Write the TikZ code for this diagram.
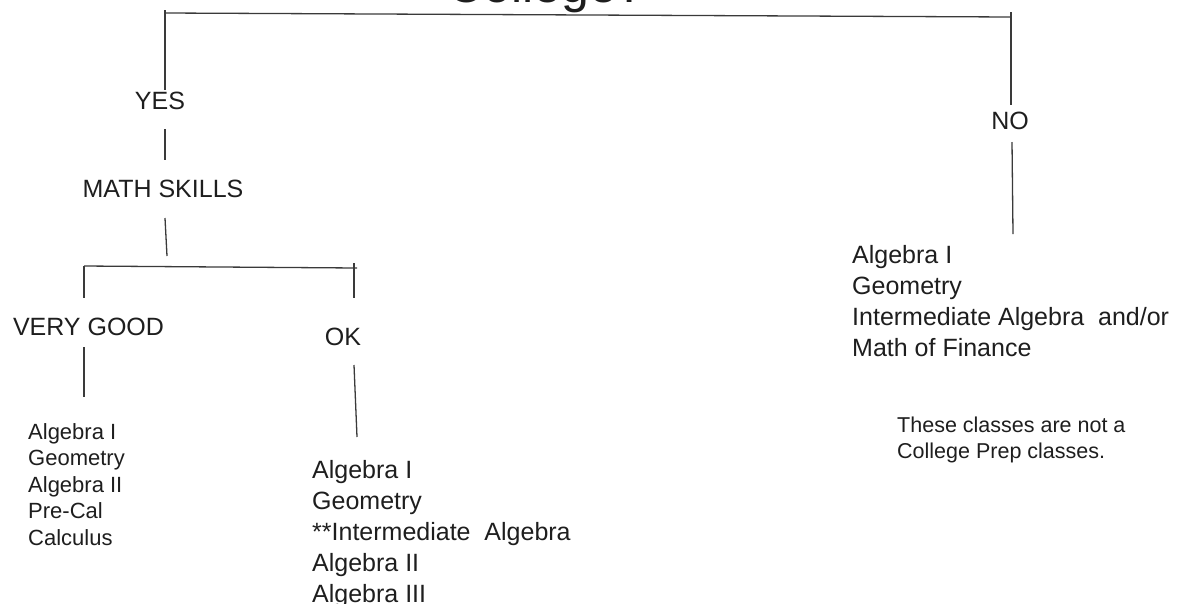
\documentclass[tikz,border=0pt]{standalone}
\usepackage{fontspec}
\setmainfont{Liberation Sans}
\definecolor{txt}{HTML}{1E1E1E}
\definecolor{linegray}{HTML}{3A3A3A}
\begin{document}
\begin{tikzpicture}[x=1pt,y=-1pt,
  conn/.style={draw=linegray, line width=1.3pt},
  lbl/.style={inner sep=0pt, text=txt, anchor=base, font=\fontsize{25}{31}\selectfont},
  lst/.style={inner sep=0pt, text=txt, align=left, anchor=north west, font=\fontsize{25}{31}\selectfont},
  smalllst/.style={lst, font=\fontsize{22}{26.5}\selectfont},
  notelst/.style={lst, font=\fontsize{21.5}{26}\selectfont}]
\useasboundingbox (0,0) rectangle (1182,603);

% text nodes
\node[lbl, font=\fontsize{50}{60}\selectfont] (title) at (546,2) {College?};
\node[lbl] (yes) at (160,109) {YES};
\node[lbl] (math) at (163,197) {MATH SKILLS};
\node[lbl] (vg) at (88.5,335) {VERY GOOD};
\node[lbl] (ok) at (343,345) {OK};
\node[lbl] (no) at (1010,129) {NO};

\node[smalllst] (vglist) at (28,423) {Algebra I\\Geometry\\Algebra II\\Pre-Cal\\Calculus};
\node[lst] (oklist) at (312,460) {Algebra I\\Geometry\\**Intermediate\ \ Algebra\\Algebra II\\Algebra III};
\node[lst] (nolist) at (852,245) {Algebra I\\Geometry\\Intermediate Algebra\ \ and/or\\Math of Finance};
\node[notelst] (note) at (897,417) {These classes are not a\\College Prep classes.};

% junction coordinates
\coordinate (ltick) at (165,10);
\coordinate (lcorner) at (165,13);
\coordinate (lend) at (165,90);
\coordinate (rcorner) at (1011,17);
\coordinate (rtick) at (1011,12);
\coordinate (rend) at (1011,105);

\coordinate (y1) at (165,129);
\coordinate (y2) at (165,160);
\coordinate (m1) at (165,218);
\coordinate (m2) at (167,256);

\coordinate (sbl) at (84,266);
\coordinate (sbr) at (357,268);
\coordinate (sbrt) at (354,263);
\coordinate (vgtop) at (84,298);
\coordinate (oktop) at (354,298);

\coordinate (vg1) at (84,347);
\coordinate (vg2) at (84,397);
\coordinate (ok1) at (354,365);
\coordinate (ok2) at (357,437);
\coordinate (no1) at (1012,142);
\coordinate (no2) at (1013,234);

% connectors
\draw[conn] (ltick) -- (lend);
\draw[conn] (lcorner) -- (rcorner);
\draw[conn] (rtick) -- (rend);
\draw[conn] (y1) -- (y2);
\draw[conn] (m1) -- (m2);
\draw[conn] (sbl) -- (sbr);
\draw[conn] (sbl) -- (vgtop);
\draw[conn] (sbrt) -- (oktop);
\draw[conn] (vg1) -- (vg2);
\draw[conn] (ok1) -- (ok2);
\draw[conn] (no1) -- (no2);
\end{tikzpicture}
\end{document}
